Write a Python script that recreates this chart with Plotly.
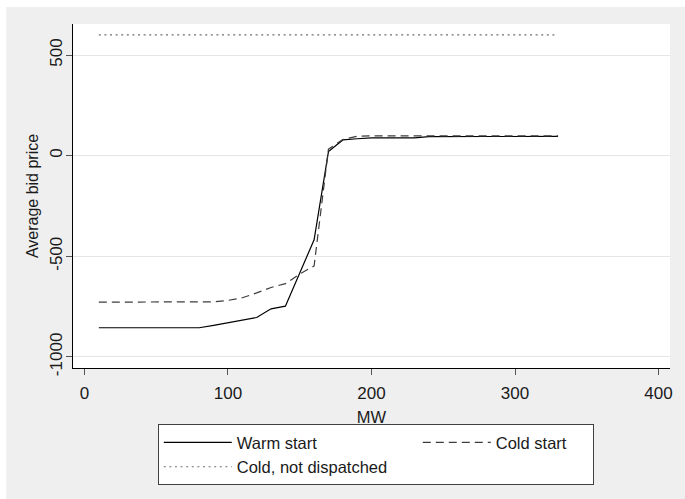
import plotly.graph_objects as go

# Offer quantity (MW) and average bid price for each start condition
mw = [10, 20, 30, 40, 50, 60, 70, 80, 90, 100, 110, 120, 130, 140, 150, 160, 170,
      180, 190, 200, 210, 220, 230, 240, 250, 260, 270, 280, 290, 300, 310, 320, 330]

warm_start = [-855, -855, -855, -855, -855, -855, -855, -855, -843, -830, -817, -804,
              -761, -748, -583, -418, 20, 78, 84, 88, 88, 88, 88, 94, 95, 95, 95, 95,
              95, 96, 96, 96, 96]

cold_start = [-728, -728, -728, -728, -728, -728, -728, -728, -726, -719, -706, -682,
              -655, -636, -588, -548, 32, 80, 96, 98, 98, 98, 98, 98, 98, 98, 98, 98,
              98, 98, 98, 98, 98]

cold_not_dispatched = [600, 600, 600, 600, 600, 600, 600, 600, 600, 600, 600, 600,
                       600, 600, 600, 600, 600, 600, 600, 600, 600, 600, 600, 600,
                       600, 600, 600, 600, 600, 600, 600, 600, 600]

series_names = ["Warm start", "Cold start", "Cold, not dispatched"]
x_ticks = [0, 100, 200, 300, 400]
y_ticks = [-1000, -500, 0, 500]
y_tick_labels = ["-1000", "-500", "0", "500"]

FONT = "Liberation Sans, Arial, sans-serif"
INK = "#1a1a1a"

fig = go.Figure()
fig.add_trace(go.Scatter(x=mw, y=warm_start, mode="lines", name=series_names[0],
                         legendwidth=176,
                         line=dict(color="#000000", width=1.2)))
fig.add_trace(go.Scatter(x=mw, y=cold_start, mode="lines", name=series_names[1],
                         legendwidth=92,
                         line=dict(color="#3c3c3c", width=1.2, dash="8px,5px")))
fig.add_trace(go.Scatter(x=mw, y=cold_not_dispatched, mode="lines", name=series_names[2],
                         line=dict(color="#6e6e6e", width=1.2, dash="2px,3.6px")))

# thin white border along the top and left edge of the page
fig.add_shape(type="rect", xref="paper", yref="paper", x0=-0.13, x1=1.05,
              y0=1.0494, y1=1.1, fillcolor="white", line_width=0, layer="below")
fig.add_shape(type="rect", xref="paper", yref="paper", x0=-0.13, x1=-0.1119,
              y0=-0.6, y1=1.1, fillcolor="white", line_width=0, layer="below")

fig.update_layout(
    width=685, height=499,
    margin=dict(l=73, r=13, t=24, b=131),
    paper_bgcolor="#efefef",
    plot_bgcolor="white",
    font=dict(family=FONT, size=17, color=INK),
    showlegend=True,
    legend=dict(
        orientation="h", x=0.142, y=-0.163, xanchor="left", yanchor="top",
        bgcolor="white", bordercolor="#404040", borderwidth=1,
        font=dict(family=FONT, size=16.5, color=INK),
        itemwidth=68,
    ),
)

fig.update_xaxes(
    range=[-8, 408], tickvals=x_ticks, showgrid=False, zeroline=False,
    showline=True, linecolor="#000000", linewidth=1,
    ticks="outside", ticklen=6, tickcolor="#555555", tickwidth=1,
    ticklabelstandoff=4,
    title=dict(text="MW", font=dict(size=16.5), standoff=9),
)
fig.update_yaxes(
    range=[-1055, 654], tickvals=y_ticks, ticktext=y_tick_labels, tickangle=-90,
    showgrid=True, gridcolor="#e6e6e6", gridwidth=1, zeroline=False,
    showline=True, linecolor="#000000", linewidth=1,
    ticks="outside", ticklen=6, tickcolor="#555555", tickwidth=1,
    ticklabelstandoff=-3,
    title=dict(text="Average bid price", font=dict(size=16), standoff=4),
)

fig.write_html("out.html")
